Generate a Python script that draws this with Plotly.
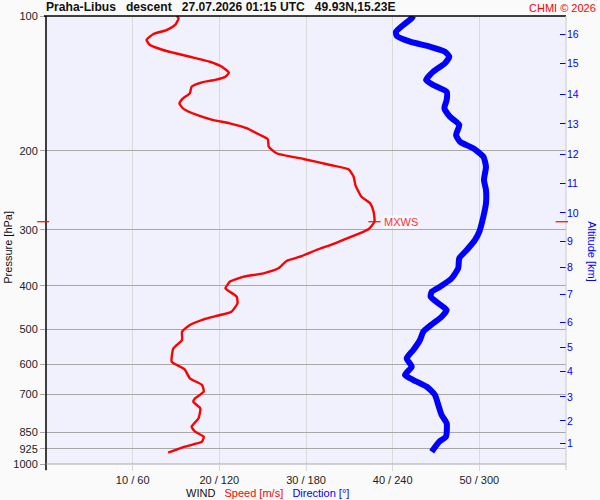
import math
import plotly.graph_objects as go

# ---------------- data ----------------
SPEED_P = [100, 101.2, 104.7, 107.5, 109.7, 113.1, 116.1, 119.1, 120.8, 123.3,
           126.5, 129.8, 133.9, 136.6, 138.9, 140.6, 143.8, 148.8, 152.7, 156.7,
           160.7, 166.3, 170.7, 173.6, 178.1, 184.4, 188.5, 195.7, 202.5, 208.5,
           215.1, 219.9, 228.4, 238.4, 253.2, 261.9, 273.4, 287.9, 299.2, 307.1,
           316.2, 324.5, 332.9, 344.6, 351.7, 365.8, 375.3, 381.9, 391.8, 396.5,
           405.3, 417.4, 423.2, 437.8, 457.1, 465.0, 475.3, 489.4, 506.6, 528.7,
           551.7, 591.0, 601.2, 614.6, 643.7, 666.3, 689.6, 713.5, 726.0, 751.2,
           790.7, 825.5, 847.0, 869.1, 891.7, 914.9, 943.7]
SPEED_MS = [15.1, 15.3, 14.9, 13.9, 12.4, 11.6, 12.0, 13.5, 14.7, 16.6,
            18.9, 20.3, 21.1, 20.7, 19.5, 18.0, 16.8, 16.6, 15.8, 15.4,
            15.8, 17.4, 19.3, 21.2, 23.2, 24.7, 25.6, 25.7, 26.6, 29.7,
            32.8, 34.9, 35.5, 35.7, 36.4, 37.4, 37.8, 37.9, 37.2, 35.9,
            34.3, 32.8, 31.2, 29.3, 27.8, 26.8, 25.1, 22.8, 21.2, 21.0,
            20.7, 21.6, 22.0, 22.1, 21.4, 20.1, 18.2, 16.6, 15.7, 15.7,
            14.7, 14.5, 15.1, 16.0, 16.6, 18.0, 18.2, 17.2, 17.0, 17.8,
            17.6, 16.8, 17.2, 18.2, 18.0, 16.0, 14.1]

DIR_P = [100, 101.2, 104.7, 108.4, 110.8, 114.1, 117.1, 120.1, 123.3, 127.5,
         133.1, 138.9, 142.6, 147.6, 154.0, 160.7, 167.9, 175.1, 184.4, 190.8,
         197.4, 206.1, 217.0, 232.3, 244.5, 261.9, 280.5, 303.0, 316.2, 332.9,
         347.4, 365.8, 385.0, 402.2, 412.7, 423.2, 437.8, 453.2, 469.1, 485.2,
         506.6, 528.7, 556.6, 580.9, 606.4, 632.9, 649.4, 672.3, 701.5, 738.5,
         777.2, 811.3, 869.1, 891.7, 938.7]
DIR_DEG = [254.3, 253.2, 247.4, 242.3, 242.8, 252.0, 265.9, 276.2, 279.2, 276.2,
           268.1, 263.1, 268.1, 277.4, 277.4, 275.8, 279.7, 286.1, 283.9, 286.6,
           295.8, 302.8, 304.6, 303.2, 304.6, 304.6, 302.8, 300.0, 297.0, 291.3,
           286.1, 285.4, 280.9, 272.8, 267.0, 266.3, 271.6, 277.4, 273.9, 268.1,
           261.2, 258.9, 254.3, 249.7, 253.2, 248.5, 254.3, 263.6, 269.3, 271.6,
           273.9, 277.4, 276.9, 272.3, 267.0]

P_TICKS = [100, 200, 300, 400, 500, 600, 700, 850, 925, 1000]
X_TICKS = [10, 20, 30, 40, 50]
X_TICK_TEXT = ["10 / 60", "20 / 120", "30 / 180", "40 / 240", "50 / 300"]
ALT_KM = [1, 2, 3, 4, 5, 6, 7, 8, 9, 10, 11, 12, 13, 14, 15, 16]
ALT_P = [899.0, 801.1, 708.2, 621.6, 549.6, 482.1, 418.8, 364.7, 318.2, 275.0,
         236.7, 204.0, 174.2, 149.7, 127.4, 110.0]

TITLE = "Praha-Libus\u00a0\u00a0 descent\u00a0\u00a0 27.07.2026 01:15 UTC\u00a0\u00a0 49.93N,15.23E"

FONT = "Arial, Liberation Sans, sans-serif"

# max wind
imax = max(range(len(SPEED_MS)), key=lambda i: SPEED_MS[i])
vmax, pmax = SPEED_MS[imax], SPEED_P[imax]

fig = go.Figure()
fig.add_trace(go.Scatter(x=DIR_DEG, y=DIR_P, xaxis="x2", yaxis="y2", mode="lines",
                         line=dict(color="#0000ff", width=6, shape="spline", smoothing=0.5),
                         hoverinfo="skip", showlegend=False))
fig.add_trace(go.Scatter(x=SPEED_MS, y=SPEED_P, mode="lines",
                         line=dict(color="#ff0000", width=2.4, shape="spline", smoothing=0.5),
                         hoverinfo="skip", showlegend=False))
# MXWS marker line
fig.add_trace(go.Scatter(x=[vmax - 0.7, vmax + 0.7], y=[pmax, pmax], mode="lines",
                         line=dict(color="#ff0000", width=1.2), hoverinfo="skip",
                         showlegend=False))

fig.update_layout(
    width=600, height=500,
    margin=dict(l=46, r=34, t=16, b=36, autoexpand=False),
    paper_bgcolor="#fafafa",
    plot_bgcolor="#f1f1fd",
    font=dict(family=FONT, size=11, color="#222"),
    xaxis=dict(range=[0, 60], tickvals=X_TICKS, ticktext=X_TICK_TEXT,
               showgrid=True, gridcolor="#dadada", gridwidth=1,
               ticks="outside", ticklen=6, tickcolor="#dadada",
               showline=False, zeroline=False, automargin=False,
               tickfont=dict(size=11, color="#222")),
    xaxis2=dict(range=[0, 360], overlaying="x", visible=False),
    yaxis=dict(type="log", range=[3, 2], tickvals=P_TICKS,
               ticktext=[str(p) for p in P_TICKS],
               showgrid=True, gridcolor="#a8a8a8", gridwidth=1,
               ticks="outside", ticklen=5, tickcolor="#a8a8a8",
               showline=False, zeroline=False, automargin=False,
               tickfont=dict(size=11, color="#222")),
    yaxis2=dict(type="log", range=[3, 2], overlaying="y", side="right",
                tickvals=ALT_P, ticktext=[str(k) for k in ALT_KM],
                showgrid=False, zeroline=False, showline=False, automargin=False,
                ticks="inside", ticklen=6, tickcolor="#0000ff", tickwidth=1.2,
                tickfont=dict(size=10.5, color="#0000ff")),
)

shapes = [
    # left axis line
    dict(type="line", xref="paper", yref="paper", x0=0, x1=0, y0=-0.014, y1=1,
         line=dict(color="#000", width=1.5)),
    # top line
    dict(type="line", xref="paper", yref="paper", x0=-0.004, x1=1, y0=1, y1=1,
         line=dict(color="#000", width=1.5)),
    # right axis line
    dict(type="line", xref="paper", yref="paper", x0=1, x1=1, y0=-0.014, y1=1,
         line=dict(color="#c8c8c8", width=1)),
    # bottom 1000 line
    dict(type="line", xref="paper", yref="paper", x0=0, x1=1, y0=0, y1=0,
         line=dict(color="#a8a8a8", width=1)),
    # MXWS marks on axes
    dict(type="line", xref="paper", yref="y", x0=-0.017, x1=0.006, y0=pmax, y1=pmax,
         line=dict(color="#ff0000", width=1.2)),
    dict(type="line", xref="paper", yref="y", x0=0.98, x1=1.004, y0=pmax, y1=pmax,
         line=dict(color="#ff0000", width=1.2)),
]
fig.update_layout(shapes=shapes)

annotations = [
    dict(text="<b>" + TITLE + "</b>", xref="paper", yref="paper", x=-0.004, y=1.0,
         xanchor="left", yanchor="bottom", yshift=0, showarrow=False,
         font=dict(size=12.1, color="#111")),
    dict(text="CHMI \u00a9 2026", xref="paper", yref="paper", x=1.062, y=1.0,
         xanchor="right", yanchor="bottom", showarrow=False,
         font=dict(size=11, color="#ff0000")),
    dict(text="WIND\u00a0\u00a0 <span style='color:#ff0000'>Speed [m/s]</span>\u00a0\u00a0 "
              "<span style='color:#0000ff'>Direction [\u00b0]</span>",
         xref="paper", yref="paper", x=0.426, y=-0.047, xanchor="center", yanchor="top",
         showarrow=False, font=dict(size=11, color="#111")),
    dict(text="Pressure [hPa]", xref="paper", yref="paper", x=-0.072, y=0.484,
         textangle=-90, xanchor="center", yanchor="middle", showarrow=False,
         font=dict(size=11, color="#111")),
    dict(text="Altitude [km]", xref="paper", yref="paper", x=1.05, y=0.475,
         textangle=90, xanchor="center", yanchor="middle", showarrow=False,
         font=dict(size=11, color="#0000ff")),
    dict(text="MXWS", xref="x", yref="y", x=vmax + 1.0, y=math.log10(pmax),
         xanchor="left", yanchor="middle", showarrow=False,
         bgcolor="rgba(255,255,255,0.55)", borderpad=0,
         font=dict(size=11, color="#ff3030")),
]
fig.update_layout(annotations=annotations)

fig.write_html("out.html", config={"displayModeBar": False},
               post_script="document.body.style.margin='0';document.body.style.padding='0';")
